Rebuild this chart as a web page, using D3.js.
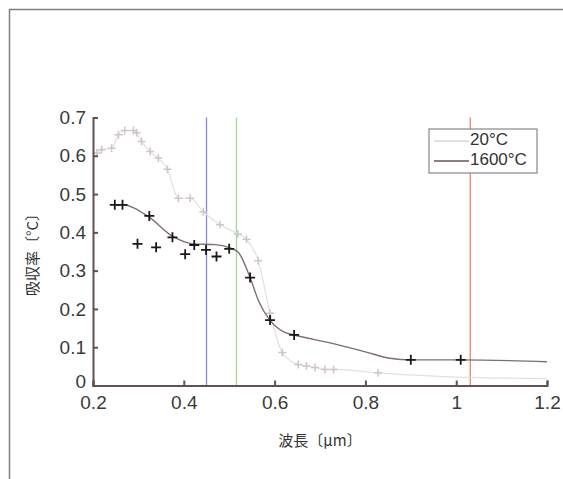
<!DOCTYPE html>
<html>
<head>
<meta charset="utf-8">
<script src="https://cdn.jsdelivr.net/npm/d3@7"></script>
<style>
  body { margin: 0; background: #fff; }
  text { font-family: "Liberation Sans", "Noto Sans CJK JP", sans-serif; }
</style>
</head>
<body>
<script>
// x ticks and y ticks
var xTicks = [0.2, 0.4, 0.6, 0.8, 1.0, 1.2];
var yTicks = [0, 0.1, 0.2, 0.3, 0.4, 0.5, 0.6, 0.7];

// 20°C measured points (wavelength, absorptance)
var room_x = [0.208, 0.219, 0.241, 0.256, 0.27, 0.289, 0.296, 0.307, 0.326, 0.344, 0.364, 0.388, 0.414, 0.443, 0.48, 0.519, 0.538, 0.564, 0.59, 0.617, 0.652, 0.67, 0.689, 0.711, 0.73, 0.828, 1.0, 1.2];
var room_y = [0.607, 0.616, 0.62, 0.655, 0.666, 0.666, 0.66, 0.637, 0.611, 0.594, 0.565, 0.489, 0.489, 0.454, 0.42, 0.396, 0.382, 0.326, 0.189, 0.086, 0.055, 0.051, 0.047, 0.042, 0.042, 0.033, 0.022, 0.018];

// 1600°C fitted curve
var hot_curve_x = [0.25, 0.265, 0.32, 0.375, 0.42, 0.47, 0.5, 0.52, 0.546, 0.565, 0.59, 0.62, 0.643, 0.72, 0.8, 0.854, 0.9, 1.01, 1.2];
var hot_curve_y = [0.472, 0.472, 0.443, 0.39, 0.37, 0.368, 0.36, 0.348, 0.282, 0.22, 0.17, 0.14, 0.132, 0.112, 0.088, 0.071, 0.067, 0.067, 0.062];

// 1600°C measured points
var hot_x = [0.248, 0.265, 0.298, 0.324, 0.339, 0.375, 0.403, 0.423, 0.449, 0.472, 0.5, 0.546, 0.59, 0.643, 0.9, 1.01];
var hot_y = [0.472, 0.472, 0.37, 0.443, 0.361, 0.387, 0.343, 0.367, 0.354, 0.337, 0.357, 0.282, 0.171, 0.132, 0.067, 0.067];

// laser lines
var laser_wl = [0.45, 0.516, 1.031];
var laser_col = ["#8484d8", "#a2d892", "#f08070"];

var legendNames = ["20°C", "1600°C"];

var width = 563, height = 479;
var svg = d3.select("body").append("svg")
    .attr("width", width)
    .attr("height", height);

// outer frame (open to right/bottom)
svg.append("path")
    .attr("d", "M9.5," + height + "V9.5H" + width)
    .attr("fill", "none")
    .attr("stroke", "#808080")
    .attr("stroke-width", 1.5);

var x = d3.scaleLinear().domain([0.2, 1.2]).range([93, 547]);
var y = d3.scaleLinear().domain([0, 0.7]).range([385.5, 117.5]);

var axisCol = "#5e5252";

// laser wavelength lines
laser_wl.forEach(function(w, i) {
    svg.append("line")
        .attr("x1", x(w)).attr("x2", x(w))
        .attr("y1", y(0.7)).attr("y2", y(0))
        .attr("stroke", laser_col[i])
        .attr("stroke-width", 1.3);
});

var line = d3.line()
    .x(function(d) { return x(d[0]); })
    .y(function(d) { return y(d[1]); });

// 20°C line and markers
var room = d3.zip(room_x, room_y);
svg.append("path")
    .datum(room)
    .attr("d", line.curve(d3.curveMonotoneX))
    .attr("fill", "none")
    .attr("stroke", "#e6dfdf")
    .attr("stroke-width", 1.2);

function cross(sel, data, col, sz, sw) {
    sel.selectAll(null)
        .data(data)
        .enter().append("path")
        .attr("d", function(d) {
            var cx = x(d[0]), cy = y(d[1]);
            return "M" + (cx - sz) + "," + cy + "H" + (cx + sz) + "M" + cx + "," + (cy - sz) + "V" + (cy + sz);
        })
        .attr("stroke", col)
        .attr("stroke-width", sw)
        .attr("fill", "none");
}

cross(svg.append("g"), room.slice(0, 26), "#d0c5c5", 4, 1.5);

// 1600°C curve
svg.append("path")
    .datum(d3.zip(hot_curve_x, hot_curve_y))
    .attr("d", line.curve(d3.curveMonotoneX))
    .attr("fill", "none")
    .attr("stroke", "#7e6e6e")
    .attr("stroke-width", 1.4);

cross(svg.append("g"), d3.zip(hot_x, hot_y), "#1c1818", 5, 1.8);

// axes
var gx = svg.append("g")
    .attr("transform", "translate(0," + y(0) + ")")
    .call(d3.axisTop(x).tickValues(xTicks).tickSize(5).tickFormat(function(d) { return d === 1 ? "1" : d3.format(".1f")(d); }));
gx.selectAll("text")
    .attr("y", 18)
    .attr("dy", "0")
    .attr("dominant-baseline", "middle");

var gy = svg.append("g")
    .attr("transform", "translate(" + x(0.2) + ",0)")
    .call(d3.axisRight(y).tickValues(yTicks).tickSize(5).tickFormat(function(d) { return d === 0 ? "0" : d3.format(".1f")(d); }));
gy.selectAll("text")
    .attr("x", -7)
    .attr("text-anchor", "end");
gy.selectAll(".tick text").filter(function(d) { return d === 0; })
    .attr("dy", "0.1em");

[gx, gy].forEach(function(g) {
    g.select(".domain").attr("stroke", axisCol).attr("stroke-width", 2);
    g.selectAll(".tick line").attr("stroke", axisCol).attr("stroke-width", 2);
    g.selectAll("text")
        .attr("fill", "#3a3a3a")
        .style("font-size", "19px")
        .style("font-family", "Liberation Sans, sans-serif");
});

// axis titles
svg.append("text")
    .attr("x", x(0.7))
    .attr("y", 446)
    .attr("text-anchor", "middle")
    .style("font-family", "Noto Sans CJK JP")
    .style("font-size", "15px")
    .attr("fill", "#333")
    .text("波長〔μm〕");

svg.append("text")
    .attr("transform", "translate(38,251) rotate(-90)")
    .attr("text-anchor", "middle")
    .style("font-family", "Noto Sans CJK JP")
    .style("font-size", "15px")
    .attr("fill", "#333")
    .text("吸収率〔°C〕");

// legend
var lg = svg.append("g").attr("transform", "translate(429,129)");
lg.append("rect")
    .attr("width", 108).attr("height", 44)
    .attr("fill", "#fff")
    .attr("stroke", "#888")
    .attr("stroke-width", 1.2);
var legCols = ["#ddd5d5", "#8e7e7e"];
legendNames.forEach(function(n, i) {
    var ly = 12 + i * 20;
    lg.append("line")
        .attr("x1", 5).attr("x2", 40)
        .attr("y1", ly).attr("y2", ly)
        .attr("stroke", legCols[i])
        .attr("stroke-width", i ? 2 : 1.5);
    lg.append("text")
        .attr("x", 41).attr("y", ly)
        .attr("dominant-baseline", "middle")
        .style("font-size", "17px")
        .attr("fill", "#333")
        .text(n);
});
</script>
</body>
</html>
